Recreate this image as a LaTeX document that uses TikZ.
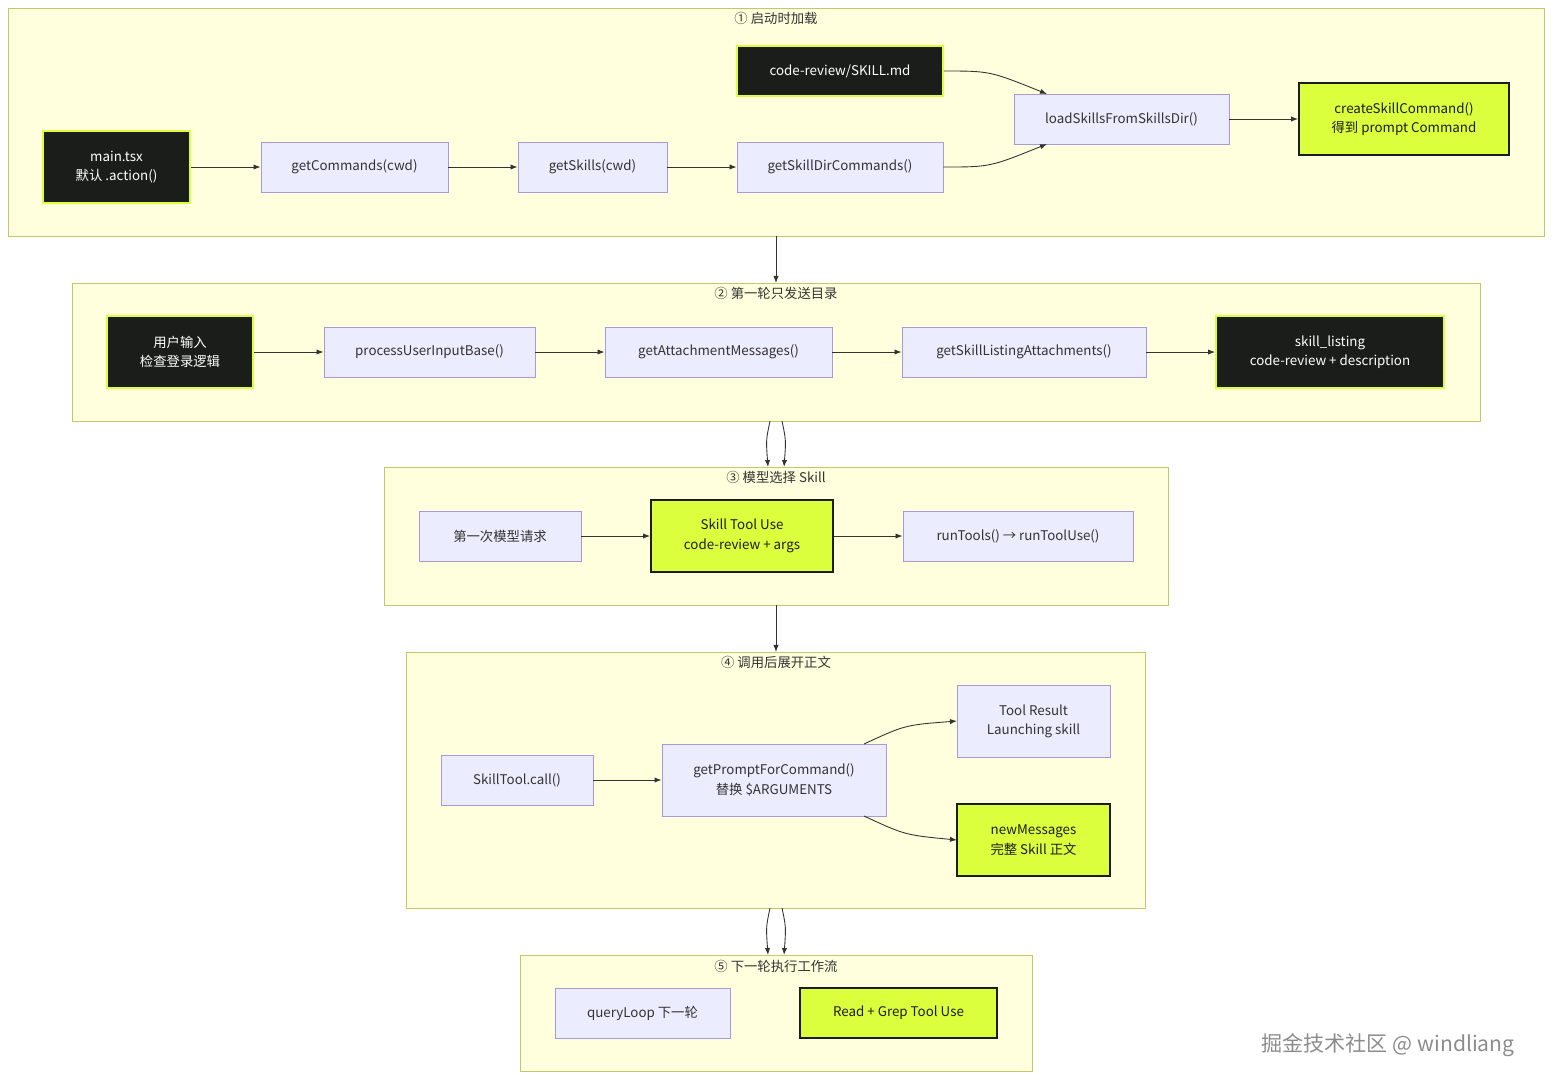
\documentclass[tikz,border=0pt]{standalone}
\usepackage{fontspec}
\setmainfont{Noto Sans CJK SC}
\usetikzlibrary{positioning, arrows.meta}
\definecolor{clfill}{HTML}{FFFFDE}
\definecolor{cldraw}{HTML}{C2C96A}
\definecolor{lavfill}{HTML}{ECECFF}
\definecolor{lavdraw}{HTML}{A899DD}
\definecolor{darkfill}{HTML}{1B1D1A}
\definecolor{limefill}{HTML}{DBFF3D}
\definecolor{linegray}{HTML}{333333}

\begin{document}
\begin{tikzpicture}
[
    x=0.02cm, y=-0.02cm,
    font=\fontsize{7.6}{11}\selectfont,
    cluster/.style={draw=cldraw, fill=clfill, line width=0.5pt},
    title_text/.style={font=\fontsize{7.6}{9}\selectfont, text=linegray},
    lav_node/.style={draw=lavdraw, fill=lavfill, line width=0.5pt, align=center, text=linegray, inner sep=0pt},
    dark_node/.style={draw=limefill, fill=darkfill, line width=1pt, align=center, text=white, inner sep=0pt},
    lime_node/.style={draw=darkfill, fill=limefill, line width=1pt, align=center, text=darkfill, inner sep=0pt},
    flow/.style={-{Latex[length=4pt,width=3pt]}, draw=linegray, line width=0.5pt},
]
    \useasboundingbox (0,0) rectangle (1568,1090);
    % clusters
    \draw[cluster] (8,8) rectangle (1544,236);
    \draw[cluster] (72,283) rectangle (1480,421);
    \draw[cluster] (384,467) rectangle (1168,605);
    \draw[cluster] (406,652) rectangle (1145,908);
    \draw[cluster] (520,955) rectangle (1032,1071);
    \node[title_text] (t1) at (776,18) {① 启动时加载};
    \node[title_text] (t2) at (776,293) {② 第一轮只发送目录};
    \node[title_text] (t3) at (776,477) {③ 模型选择 Skill};
    \node[title_text] (t4) at (776,662) {④ 调用后展开正文};
    \node[title_text] (t5) at (776,966) {⑤ 下一轮执行工作流};
    % cluster 1
    \node[dark_node, minimum width=147*0.02cm, minimum height=72*0.02cm] (main) at (116.5,167) {main.tsx\\默认 .action()};
    \node[lav_node, minimum width=187*0.02cm, minimum height=50*0.02cm] (cmds) at (354.5,167) {getCommands(cwd)};
    \node[lav_node, minimum width=149*0.02cm, minimum height=50*0.02cm] (skills) at (592.5,167) {getSkills(cwd)};
    \node[lav_node, minimum width=206*0.02cm, minimum height=50*0.02cm] (dircmds) at (840,167) {getSkillDirCommands()};
    \node[dark_node, minimum width=206*0.02cm, minimum height=50*0.02cm] (skillmd) at (840,71) {code-review/SKILL.md};
    \node[lav_node, minimum width=215*0.02cm, minimum height=50*0.02cm] (load) at (1121.5,119) {loadSkillsFromSkillsDir()};
    \node[lime_node, minimum width=210*0.02cm, minimum height=72*0.02cm] (create) at (1404,119) {createSkillCommand()\\得到 prompt Command};
    % cluster 2
    \node[dark_node, minimum width=146*0.02cm, minimum height=72*0.02cm] (user) at (180,352) {用户输入\\检查登录逻辑};
    \node[lav_node, minimum width=211*0.02cm, minimum height=50*0.02cm] (process) at (429.5,352) {processUserInputBase()};
    \node[lav_node, minimum width=227*0.02cm, minimum height=50*0.02cm] (attach) at (718.5,352) {getAttachmentMessages()};
    \node[lav_node, minimum width=244*0.02cm, minimum height=50*0.02cm] (listing) at (1024,352) {getSkillListingAttachments()};
    \node[dark_node, minimum width=228*0.02cm, minimum height=72*0.02cm] (skilllist) at (1330,352) {skill\_listing\\code-review + description};
    % cluster 3
    \node[lav_node, minimum width=162*0.02cm, minimum height=50*0.02cm] (first) at (500,536) {第一次模型请求};
    \node[lime_node, minimum width=182*0.02cm, minimum height=72*0.02cm] (tooluse) at (742,536) {Skill Tool Use\\code-review + args};
    \node[lav_node, minimum width=230*0.02cm, minimum height=50*0.02cm] (runtools) at (1018,536) {runTools() → runToolUse()};
    % cluster 4
    \node[lav_node, minimum width=152*0.02cm, minimum height=50*0.02cm] (call) at (517,780) {SkillTool.call()};
    \node[lav_node, minimum width=224*0.02cm, minimum height=72*0.02cm] (prompt) at (774,780) {getPromptForCommand()\\替换 \$ARGUMENTS};
    \node[lav_node, minimum width=153*0.02cm, minimum height=72*0.02cm] (result) at (1033.5,721) {Tool Result\\Launching skill};
    \node[lime_node, minimum width=153*0.02cm, minimum height=72*0.02cm] (newmsg) at (1033.5,840) {newMessages\\完整 Skill 正文};
    % cluster 5
    \node[lav_node, minimum width=175*0.02cm, minimum height=50*0.02cm] (query) at (642.5,1013) {queryLoop 下一轮};
    \node[lime_node, minimum width=197*0.02cm, minimum height=50*0.02cm] (read) at (898.5,1013) {Read + Grep Tool Use};
    % watermark
    \node[font=\fontsize{12}{14}\selectfont, text=black!45] (mark) at (1388,1045) {掘金技术社区 @ windliang};
    % edges
    \draw[flow] (main) -- (cmds);
    \draw[flow] (cmds) -- (skills);
    \draw[flow] (skills) -- (dircmds);
    \draw[flow] (skillmd.east) .. controls (990,71) .. (1047,94);
    \draw[flow] (dircmds.east) .. controls (990,167) .. (1047,144);
    \draw[flow] (load) -- (create);
    \draw[flow] (user) -- (process);
    \draw[flow] (process) -- (attach);
    \draw[flow] (attach) -- (listing);
    \draw[flow] (listing) -- (skilllist);
    \draw[flow] (first) -- (tooluse);
    \draw[flow] (tooluse) -- (runtools);
    \draw[flow] (call) -- (prompt);
    \draw[flow] (864,744) .. controls (905,725) .. (957,721);
    \draw[flow] (864,816) .. controls (905,835) .. (957,840);
    % between clusters
    \draw[flow] (776,236) -- (776,283);
    \draw[flow] (770,421) .. controls (766,440) .. (768,467);
    \draw[flow] (782,421) .. controls (786,440) .. (784,467);
    \draw[flow] (776,605) -- (776,652);
    \draw[flow] (770,908) .. controls (766,927) .. (768,955);
    \draw[flow] (782,908) .. controls (786,927) .. (784,955);
\end{tikzpicture}
\end{document}
